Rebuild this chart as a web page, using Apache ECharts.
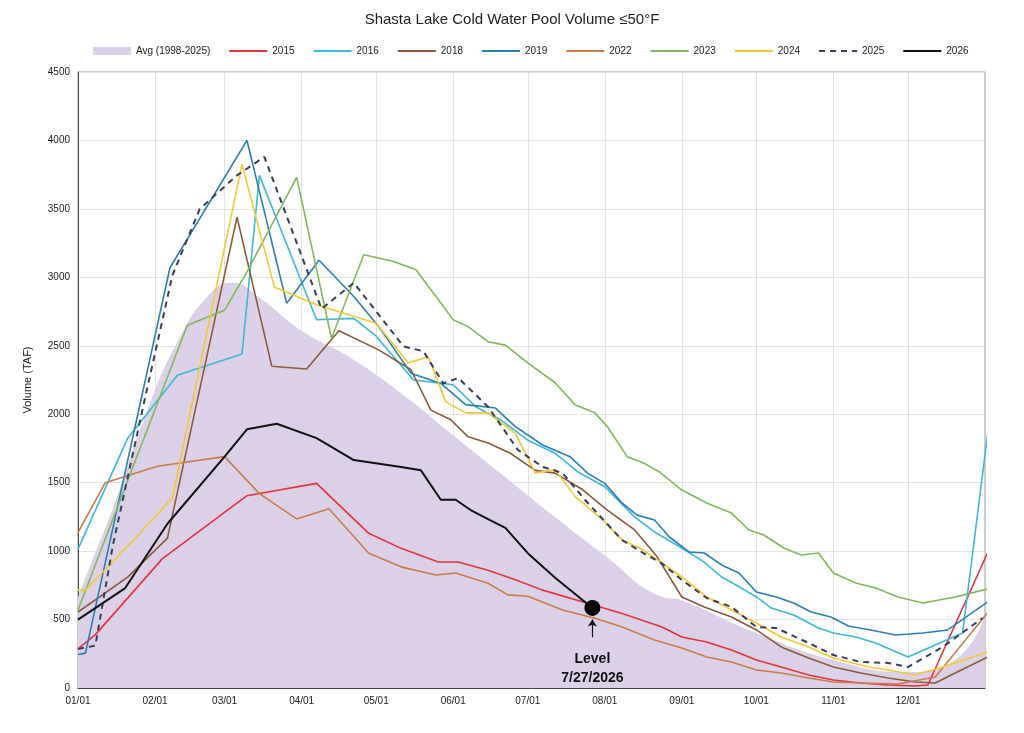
<!DOCTYPE html>
<html><head><meta charset="utf-8">
<script src="https://cdn.jsdelivr.net/npm/echarts@6/dist/echarts.min.js"></script>
<style>html,body{margin:0;padding:0;background:#fff}#c{width:1024px;height:733px}</style>
</head><body><div id="c"></div>
<script>
// x = day of year (0 = 01/01)
const monthTicks = [0,31,59,90,120,151,181,212,243,273,304,334];
const monthLabels = ['01/01','02/01','03/01','04/01','05/01','06/01','07/01','08/01','09/01','10/01','11/01','12/01'];
const avg = [[0,662],[5,900],[14,1311],[27,1986],[40,2527],[53,2878],[62,2960],[73,2851],[90,2610],[109,2420],[130,2154],[150,1861],[170,1568],[190,1276],[211,983],[235,666],[243,640],[273,402],[304,205],[334,117],[353,205],[366,570]];
const s2015 = [[0,285],[7,390],[34,945],[68,1405],[96,1495],[117,1130],[130,1020],[145,920],[153,920],[165,860],[176,790],[187,715],[203,630],[219,545],[235,445],[243,373],[253,336],[263,277],[273,205],[283,153],[294,95],[304,58],[315,37],[326,22],[337,15],[342,22],[366,986]];
const s2016 = [[0,1015],[20,1825],[40,2285],[66,2440],[73,3745],[96,2690],[111,2700],[120,2570],[135,2250],[151,2215],[160,2055],[170,1960],[181,1810],[192,1715],[201,1580],[212,1470],[224,1250],[232,1140],[243,1023],[252,920],[259,811],[267,730],[273,665],[279,584],[288,533],[298,438],[304,402],[313,373],[321,329],[334,226],[345,314],[356,402],[366,1848]];
const s2018 = [[0,555],[20,810],[36,1095],[64,3440],[78,2350],[92,2330],[105,2610],[121,2470],[134,2325],[142,2030],[150,1960],[157,1835],[165,1790],[174,1715],[184,1590],[192,1570],[203,1450],[213,1300],[224,1155],[233,960],[243,665],[252,592],[263,519],[273,424],[283,300],[294,219],[304,153],[315,110],[326,73],[337,44],[345,37],[353,110],[366,226]];
const s2019 = [[0,245],[3,255],[37,3070],[68,4000],[84,2810],[97,3125],[111,2860],[121,2640],[134,2300],[146,2225],[156,2070],[168,2045],[176,1910],[187,1775],[198,1690],[205,1570],[212,1495],[219,1350],[225,1263],[232,1227],[238,1103],[246,993],[252,986],[259,899],[266,840],[273,701],[281,665],[288,621],[295,555],[303,519],[310,453],[319,424],[329,387],[340,402],[350,424],[366,628]];
const s2022 = [[0,1135],[11,1500],[32,1620],[59,1690],[73,1420],[88,1235],[101,1310],[117,985],[130,885],[144,825],[152,840],[165,765],[173,680],[181,670],[195,570],[208,510],[219,445],[232,351],[243,292],[253,226],[263,190],[273,131],[283,110],[294,73],[304,44],[315,37],[330,29],[345,80],[366,548]];
const s2023 = [[0,570],[44,2650],[59,2760],[68,3040],[88,3730],[102,2555],[115,3165],[127,3115],[136,3055],[143,2885],[151,2690],[157,2640],[165,2530],[172,2505],[181,2375],[192,2230],[200,2070],[208,2010],[213,1910],[221,1690],[228,1640],[234,1578],[243,1446],[253,1351],[263,1278],[270,1154],[276,1118],[284,1023],[291,972],[298,986],[304,840],[313,767],[321,730],[330,665],[340,621],[353,665],[366,723]];
const s2024 = [[0,715],[3,715],[19,1015],[38,1390],[66,3825],[79,2930],[96,2800],[111,2715],[120,2665],[133,2375],[141,2420],[148,2090],[156,2010],[165,2010],[176,1860],[184,1570],[192,1595],[200,1400],[211,1230],[219,1080],[226,1023],[235,913],[243,811],[253,665],[263,570],[273,475],[283,373],[294,300],[304,219],[318,153],[326,131],[337,95],[348,153],[366,263]];
const s2025 = [[0,285],[7,310],[14,1040],[27,2120],[38,3015],[49,3500],[64,3745],[75,3880],[98,2770],[111,2960],[131,2495],[139,2460],[147,2225],[153,2265],[165,2055],[177,1740],[187,1615],[195,1570],[204,1375],[219,1080],[228,980],[235,910],[243,789],[253,657],[263,592],[273,446],[281,438],[294,329],[304,241],[315,190],[326,183],[334,153],[348,300],[364,511]];
const s2026 = [[0,500],[19,730],[36,1200],[59,1690],[68,1890],[80,1930],[96,1825],[111,1665],[130,1615],[138,1590],[146,1375],[152,1375],[158,1300],[166,1225],[172,1170],[181,985],[192,805],[207,585]];
const levelDay = 207, levelVal = 585;

const chart = echarts.init(document.getElementById('c'));
function line(name, data, color, extra) {
  return Object.assign({name, type:'line', data, symbol:'none', lineStyle:{color, width:1.6}, itemStyle:{color}, z:3}, extra||{});
}
chart.setOption({
  animation:false,
  title:{text:'Shasta Lake Cold Water Pool Volume ≤50°F', left:'center', top:7, textStyle:{fontFamily:'Liberation Sans', fontSize:15, fontWeight:'normal', color:'#222'}},
  legend:{top:41, left:88, itemWidth:38, itemHeight:8, itemGap:18, itemStyle:{opacity:0},
    textStyle:{fontFamily:'Liberation Sans', fontSize:10, color:'#222'},
    data:[{name:'Avg (1998-2025)', icon:'rect', itemStyle:{opacity:1}},'2015','2016','2018','2019','2022','2023','2024','2025','2026']},
  grid:{left:78, right:39, top:72, bottom:45, show:true, borderColor:'#999', borderWidth:1},
  xAxis:{type:'value', min:0, max:365,
    axisLine:{lineStyle:{color:'#444'}}, axisTick:{show:false, customValues:monthTicks},
    axisLabel:{customValues:monthTicks, formatter:v=>monthLabels[monthTicks.indexOf(v)], fontFamily:'Liberation Sans', fontSize:10, color:'#222'},
    splitLine:{show:true, lineStyle:{color:'#e2e2e2'}}},
  yAxis:{type:'value', min:0, max:4500, interval:500, name:'Volume (TAF)', nameLocation:'middle', nameGap:45,
    nameTextStyle:{fontFamily:'Liberation Sans', fontSize:11, color:'#222'},
    axisLine:{show:true, lineStyle:{color:'#444'}}, axisTick:{show:false},
    axisLabel:{formatter:v=>String(v), fontFamily:'Liberation Sans', fontSize:10, color:'#222'},
    splitLine:{lineStyle:{color:'#e2e2e2'}}},
  series:[
    {name:'Avg (1998-2025)', type:'line', data:avg, smooth:0.5, symbol:'none', lineStyle:{width:0}, itemStyle:{color:'#dcd0e8'}, areaStyle:{color:'#dcd0e8', opacity:1}, z:1},
    line('2015', s2015, '#e5323b'),
    line('2016', s2016, '#3cb8dc'),
    line('2018', s2018, '#8b5a3a'),
    line('2019', s2019, '#2b7fb4'),
    line('2022', s2022, '#c97c48'),
    line('2023', s2023, '#80b95c'),
    line('2024', s2024, '#f3c832'),
    line('2025', s2025, '#363f5c', {lineStyle:{color:'#363f5c', width:2, type:[6,5]}}),
    line('2026', s2026, '#111111', {lineStyle:{color:'#111', width:2}, z:5,
      markPoint:{symbol:'circle', symbolSize:16, itemStyle:{color:'#000'}, silent:true,
        data:[{coord:[levelDay, levelVal], label:{show:true, position:'bottom', distance:34, formatter:'Level\n7/27/2026', color:'#111', fontFamily:'Liberation Sans', fontWeight:'bold', fontSize:14, lineHeight:19}}]},
      markLine:{silent:true, symbol:['none','arrow'], symbolSize:7, label:{show:false}, lineStyle:{color:'#111', width:1.2, type:'solid'},
        data:[[{coord:[levelDay, 370]},{coord:[levelDay, 500]}]]}})
  ]
});
</script></body></html>
